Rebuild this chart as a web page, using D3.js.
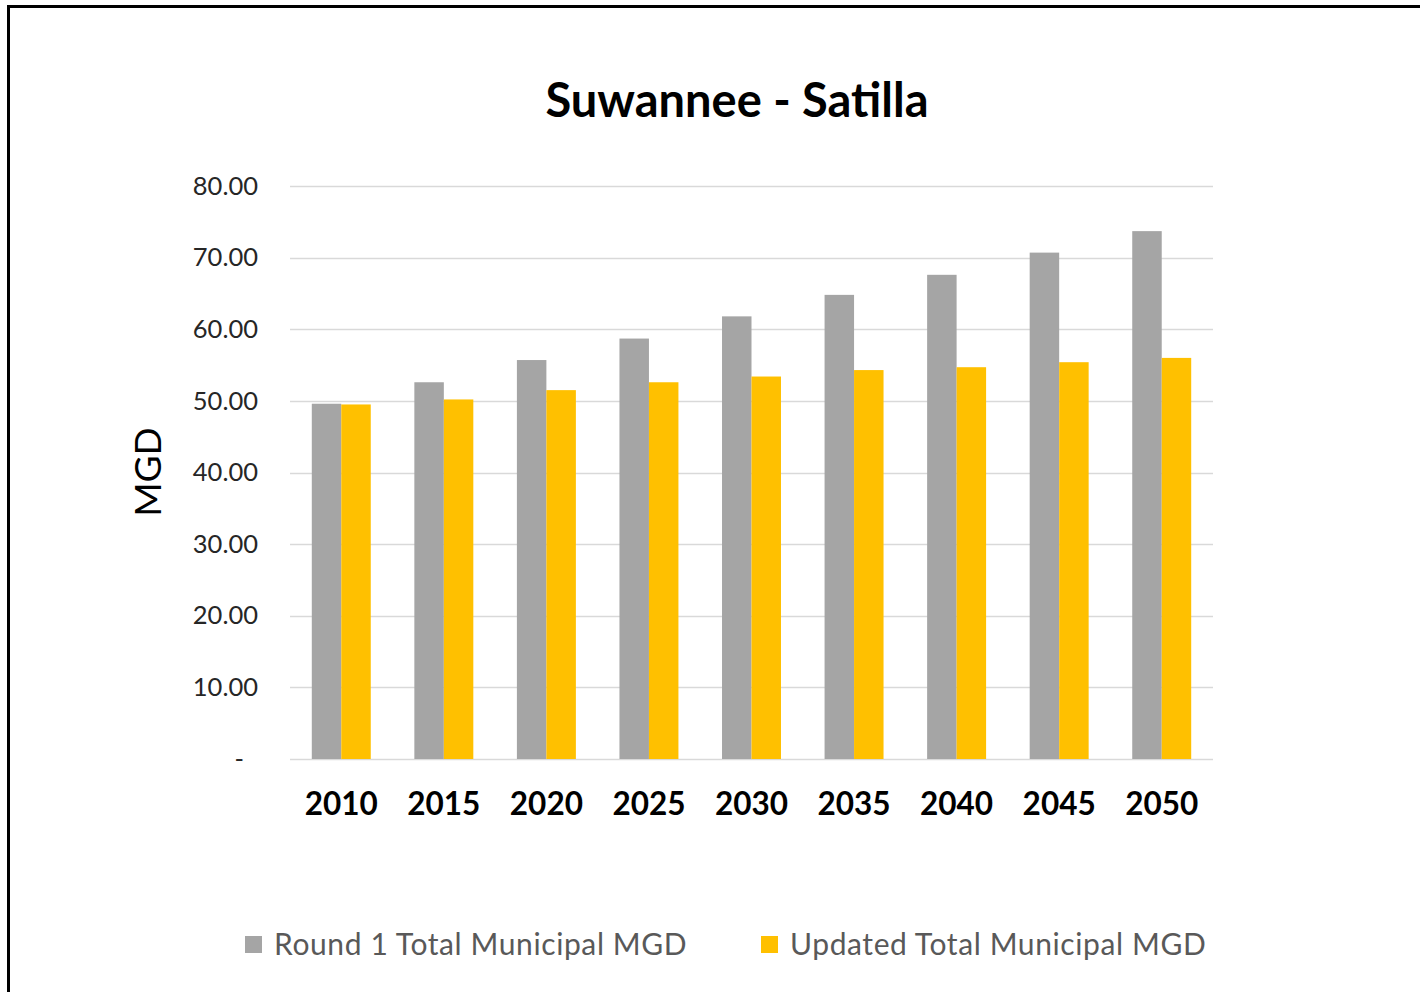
<!DOCTYPE html>
<html>
<head>
<meta charset="utf-8">
<script src="https://cdn.jsdelivr.net/npm/d3@7"></script>
<style>
  body { margin: 0; background: #fff; }
  text { font-family: Lato, "Open Sans", sans-serif; }
</style>
</head>
<body>
<svg id="chart"></svg>
<script>
// chart data
var years = ["2010", "2015", "2020", "2025", "2030", "2035", "2040", "2045", "2050"];
var round1 = [49.6, 52.6, 55.7, 58.7, 61.8, 64.8, 67.6, 70.7, 73.7];
var updated = [49.5, 50.2, 51.5, 52.6, 53.4, 54.3, 54.7, 55.4, 56.0];
var seriesNames = ["Round 1 Total Municipal MGD", "Updated Total Municipal MGD"];
var seriesColors = ["#a5a5a5", "#ffc000"];
var yTicks = [0, 10, 20, 30, 40, 50, 60, 70, 80];

// set the dimensions and margins of the graph
var margin = { top: 186, right: 207, bottom: 233, left: 290 },
  width = 1420 - margin.left - margin.right,
  height = 992 - margin.top - margin.bottom;

var svg = d3.select("#chart")
  .attr("width", 1420)
  .attr("height", 992);

// frame (only top and left edges are visible)
svg.append("line").attr("x1", 8.5).attr("x2", 1420).attr("y1", 6.5).attr("y2", 6.5)
  .attr("stroke", "#000").attr("stroke-width", 3);
svg.append("line").attr("x1", 8.5).attr("x2", 8.5).attr("y1", 5).attr("y2", 992)
  .attr("stroke", "#000").attr("stroke-width", 3);

var g = svg.append("g")
  .attr("transform", "translate(" + margin.left + "," + margin.top + ")");

// set the ranges
var x = d3.scaleBand().domain(years).range([0, width])
  .paddingInner(0.425).paddingOuter(0.2125);
var xs = d3.scaleBand().domain([0, 1]).range([0, x.bandwidth()]);
var y = d3.scaleLinear().domain([0, 80]).range([height, 0]);

// gridlines
g.selectAll(".grid")
  .data(yTicks)
  .enter().append("line")
  .attr("x1", 0).attr("x2", width)
  .attr("y1", function(d) { return Math.round(y(d)) + 0.5; })
  .attr("y2", function(d) { return Math.round(y(d)) + 0.5; })
  .attr("stroke", "#d9d9d9")
  .attr("stroke-width", 1.5);

// Y axis labels
var yAxis = g.append("g")
  .call(d3.axisLeft(y).tickValues(yTicks).tickSize(0).tickPadding(32)
    .tickFormat(function(d) { return d === 0 ? "-" : d3.format(".2f")(d); }));
yAxis.select(".domain").remove();
yAxis.selectAll("text")
  .style("font-family", "Lato, sans-serif")
  .style("font-size", "25.5px")
  .attr("fill", "#262626")
  .attr("dx", function(d) { return d === 0 ? -14 : 0; });

// bars
var data = years.map(function(yr, i) { return { year: yr, vals: [round1[i], updated[i]] }; });
var groups = g.selectAll(".grp")
  .data(data)
  .enter().append("g")
  .attr("transform", function(d) { return "translate(" + x(d.year) + ",0)"; });
groups.selectAll("rect")
  .data(function(d) { return d.vals; })
  .enter().append("rect")
  .attr("x", function(d, i) { return xs(i); })
  .attr("width", xs.bandwidth())
  .attr("y", function(d) { return y(d); })
  .attr("height", function(d) { return height - y(d); })
  .attr("fill", function(d, i) { return seriesColors[i]; });

// X axis
var xAxis = g.append("g")
  .attr("transform", "translate(0," + height + ")")
  .call(d3.axisBottom(x).tickSize(0).tickPadding(34));
xAxis.select(".domain").remove();
xAxis.selectAll("text")
  .style("font-family", "Lato, sans-serif")
  .style("font-size", "31.5px")
  .style("font-weight", "bold")
  .attr("fill", "#000");

// title
svg.append("text")
  .attr("x", 737).attr("y", 117)
  .style("text-anchor", "middle")
  .style("font-size", "47px")
  .style("font-weight", "bold")
  .attr("fill", "#000")
  .text("Suwannee - Satilla");

// y axis label
svg.append("text")
  .attr("transform", "translate(161,472) rotate(-90)")
  .style("text-anchor", "middle")
  .style("font-size", "37px")
  .attr("fill", "#000")
  .text("MGD");

// legend
var legendX = [245, 761];
var legend = svg.selectAll(".legend")
  .data(seriesNames)
  .enter().append("g")
  .attr("transform", function(d, i) { return "translate(" + legendX[i] + ",936)"; });
legend.append("rect")
  .attr("width", 17).attr("height", 17)
  .attr("fill", function(d, i) { return seriesColors[i]; });
legend.append("text")
  .attr("x", 29).attr("y", 19)
  .style("font-size", "30px")
  .style("letter-spacing", "0.6px")
  .attr("fill", "#595959")
  .text(function(d) { return d; });
</script>
</body>
</html>
